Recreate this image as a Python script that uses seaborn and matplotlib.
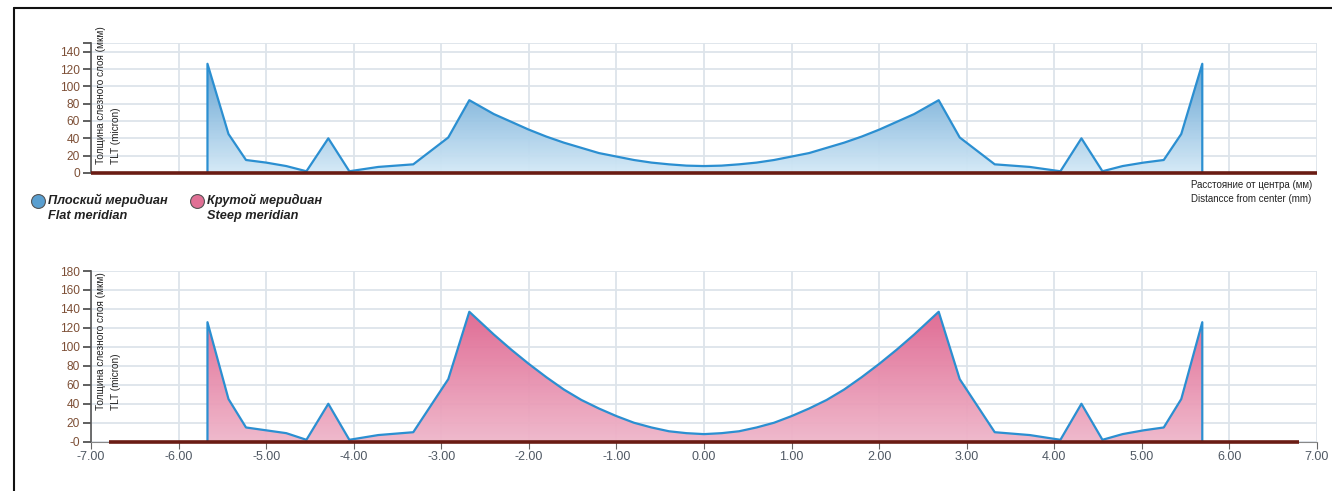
import numpy as np
import matplotlib
matplotlib.use("Agg")
import matplotlib.pyplot as plt
import seaborn as sns
from matplotlib.colors import LinearSegmentedColormap
from matplotlib.lines import Line2D

# расстояние от центра (мм), общие точки для обоих меридианов
dist_mm = [-5.67, -5.67, -5.43, -5.23, -5.00, -4.77, -4.54, -4.29, -4.05, -3.72,
           -3.32, -2.92, -2.68, -2.40, -2.20, -2.00, -1.80, -1.60, -1.40, -1.20,
           -1.00, -0.80, -0.60, -0.40, -0.20, 0.00, 0.20, 0.40, 0.60, 0.80,
           1.00, 1.20, 1.40, 1.60, 1.80, 2.00, 2.20, 2.40, 2.68, 2.92,
           3.32, 3.72, 4.07, 4.31, 4.55, 4.78, 5.02, 5.25, 5.45, 5.69, 5.69]

# плоский меридиан (мкм)
flat_tlt = [0, 126, 45, 15, 12, 8, 2, 40, 2, 7,
            10, 41, 84, 68, 59, 50, 42, 35, 29, 23,
            19, 15, 12, 10, 8.5, 8, 8.5, 10, 12, 15,
            19, 23, 29, 35, 42, 50, 59, 68, 84, 41,
            10, 7, 2, 40, 2, 8, 12, 15, 45, 126, 0]

# крутой меридиан (мкм)
steep_tlt = [0, 126, 45, 15, 12, 9, 2, 40, 2, 7,
             10, 66, 137, 113, 97, 82, 68, 55, 44, 35,
             27, 20, 15, 11, 9, 8, 9, 11, 15, 20,
             27, 35, 44, 55, 68, 82, 97, 113, 137, 66,
             10, 7, 2, 40, 2, 8, 12, 15, 45, 126, 0]

x_ticks = [-7, -6, -5, -4, -3, -2, -1, 0, 1, 2, 3, 4, 5, 6, 7]
top_yticks = [0, 20, 40, 60, 80, 100, 120, 140]
bottom_yticks = [0, 20, 40, 60, 80, 100, 120, 140, 160, 180]

ylabel_txt = "Толщина слезного слоя (мкм)\nTLT (micron)"
xlabel_txt = "Расстояние от центра (мм)\nDistancce from center (mm)"

sns.set_style("white")
plt.rcParams['font.family'] = ['Liberation Sans', 'DejaVu Sans']

W, H = 1332, 491
fig = plt.figure(figsize=(W / 100, H / 100), dpi=100)


def px_box(left, top, right, bottom):
    return [left / W, 1 - bottom / H, (right - left) / W, (bottom - top) / H]


ax_top = fig.add_axes(px_box(91, 43, 1317, 173))
ax_bot = fig.add_axes(px_box(91, 271, 1317, 441.7))

line_col = "#2b8fd1"
grid_col = "#dde4ea"
tick_col = "#7d4f36"
base_col = "#6a1c14"


def draw_panel(ax, yvals, cmap_cols, ymax, yticks, ylabels, base_x):
    ax.set_xlim(-7, 7)
    ax.set_ylim(0, ymax)
    for gx in x_ticks:
        ax.axvline(gx, color=grid_col, lw=1.3, zorder=0)
    for gy in yticks:
        ax.axhline(gy, color=grid_col, lw=1.3, zorder=0)

    poly = ax.fill_between(dist_mm, yvals, 0, color="none", lw=0)
    cmap = LinearSegmentedColormap.from_list("g", cmap_cols)
    grad = np.linspace(1, 0, 256).reshape(-1, 1)
    img = ax.imshow(grad, cmap=cmap, aspect="auto", zorder=1,
                    extent=[min(dist_mm), max(dist_mm), 0, max(yvals)], alpha=0.95)
    img.set_clip_path(poly.get_paths()[0], transform=ax.transData)
    ax.set_xlim(-7, 7)
    ax.set_ylim(0, ymax)

    sns.lineplot(x=dist_mm, y=yvals, ax=ax, sort=False, estimator=None,
                 color=line_col, lw=1.6, zorder=3)
    ax.plot(base_x, [0, 0], color=base_col, lw=2.6, zorder=4, solid_capstyle="butt",
            clip_on=False)

    ax.set_yticks(yticks)
    ax.set_yticklabels(ylabels)
    ax.tick_params(axis="y", direction="out", length=6, width=1.2, color="#444444",
                   labelcolor=tick_col, labelsize=8.6, pad=2, left=True)
    for s in ["top", "right", "bottom"]:
        ax.spines[s].set_visible(False)
    ax.spines["left"].set_color("#555555")
    ax.spines["left"].set_linewidth(1.2)
    ax.set_xlabel("")
    ax.set_ylabel("")


draw_panel(ax_top, flat_tlt, ["#d4e9f7", "#5d9fd0"], 150, top_yticks + [150],
           [str(v) for v in top_yticks] + [""], [-7, 7])
ax_top.set_xticks([])

draw_panel(ax_bot, steep_tlt, ["#efb6ca", "#df6690"], 180, bottom_yticks,
           ["-0"] + [str(v) for v in bottom_yticks[1:]], [-6.8, 6.8])
ax_bot.set_xticks(x_ticks)
ax_bot.set_xticklabels([f"{v:.2f}" for v in x_ticks])
ax_bot.spines["bottom"].set_visible(True)
ax_bot.spines["bottom"].set_color("#888888")
ax_bot.tick_params(axis="x", direction="out", length=5, color="#666666",
                   labelcolor="#4f5863", labelsize=9, pad=2, bottom=True)

# подписи осей
fig.text(96 / W, 1 - 164 / H, ylabel_txt, rotation=90, ha="left", va="bottom",
         fontsize=7.2, color="#222222", linespacing=1.6)
fig.text(96 / W, 1 - 410 / H, ylabel_txt, rotation=90, ha="left", va="bottom",
         fontsize=7.2, color="#222222", linespacing=1.6)
fig.text(1191 / W, 1 - 180 / H, xlabel_txt, ha="left", va="top",
         fontsize=7, color="#222222", linespacing=1.45)

# легенда
legend_items = [("#5a9fd0", "Плоский меридиан\nFlat meridian", 38),
                ("#e07095", "Крутой меридиан\nSteep meridian", 197)]
for col, txt, px in legend_items:
    fig.add_artist(Line2D([px / W], [1 - 201 / H], marker="o", markersize=10,
                          markerfacecolor=col, markeredgecolor="#555555",
                          markeredgewidth=0.8, linestyle="none"))
    fig.text((px + 10) / W, 1 - 194 / H, txt, ha="left", va="top", fontsize=9.2,
             fontweight="bold", fontstyle="italic", color="#222222", linespacing=1.25)

# рамка
fig.add_artist(Line2D([14 / W, 14 / W], [0, 1 - 8 / H], color="#111111", lw=1.5))
fig.add_artist(Line2D([14 / W, 1], [1 - 8 / H, 1 - 8 / H], color="#111111", lw=1.5))

fig.savefig("out.png", dpi=100)
